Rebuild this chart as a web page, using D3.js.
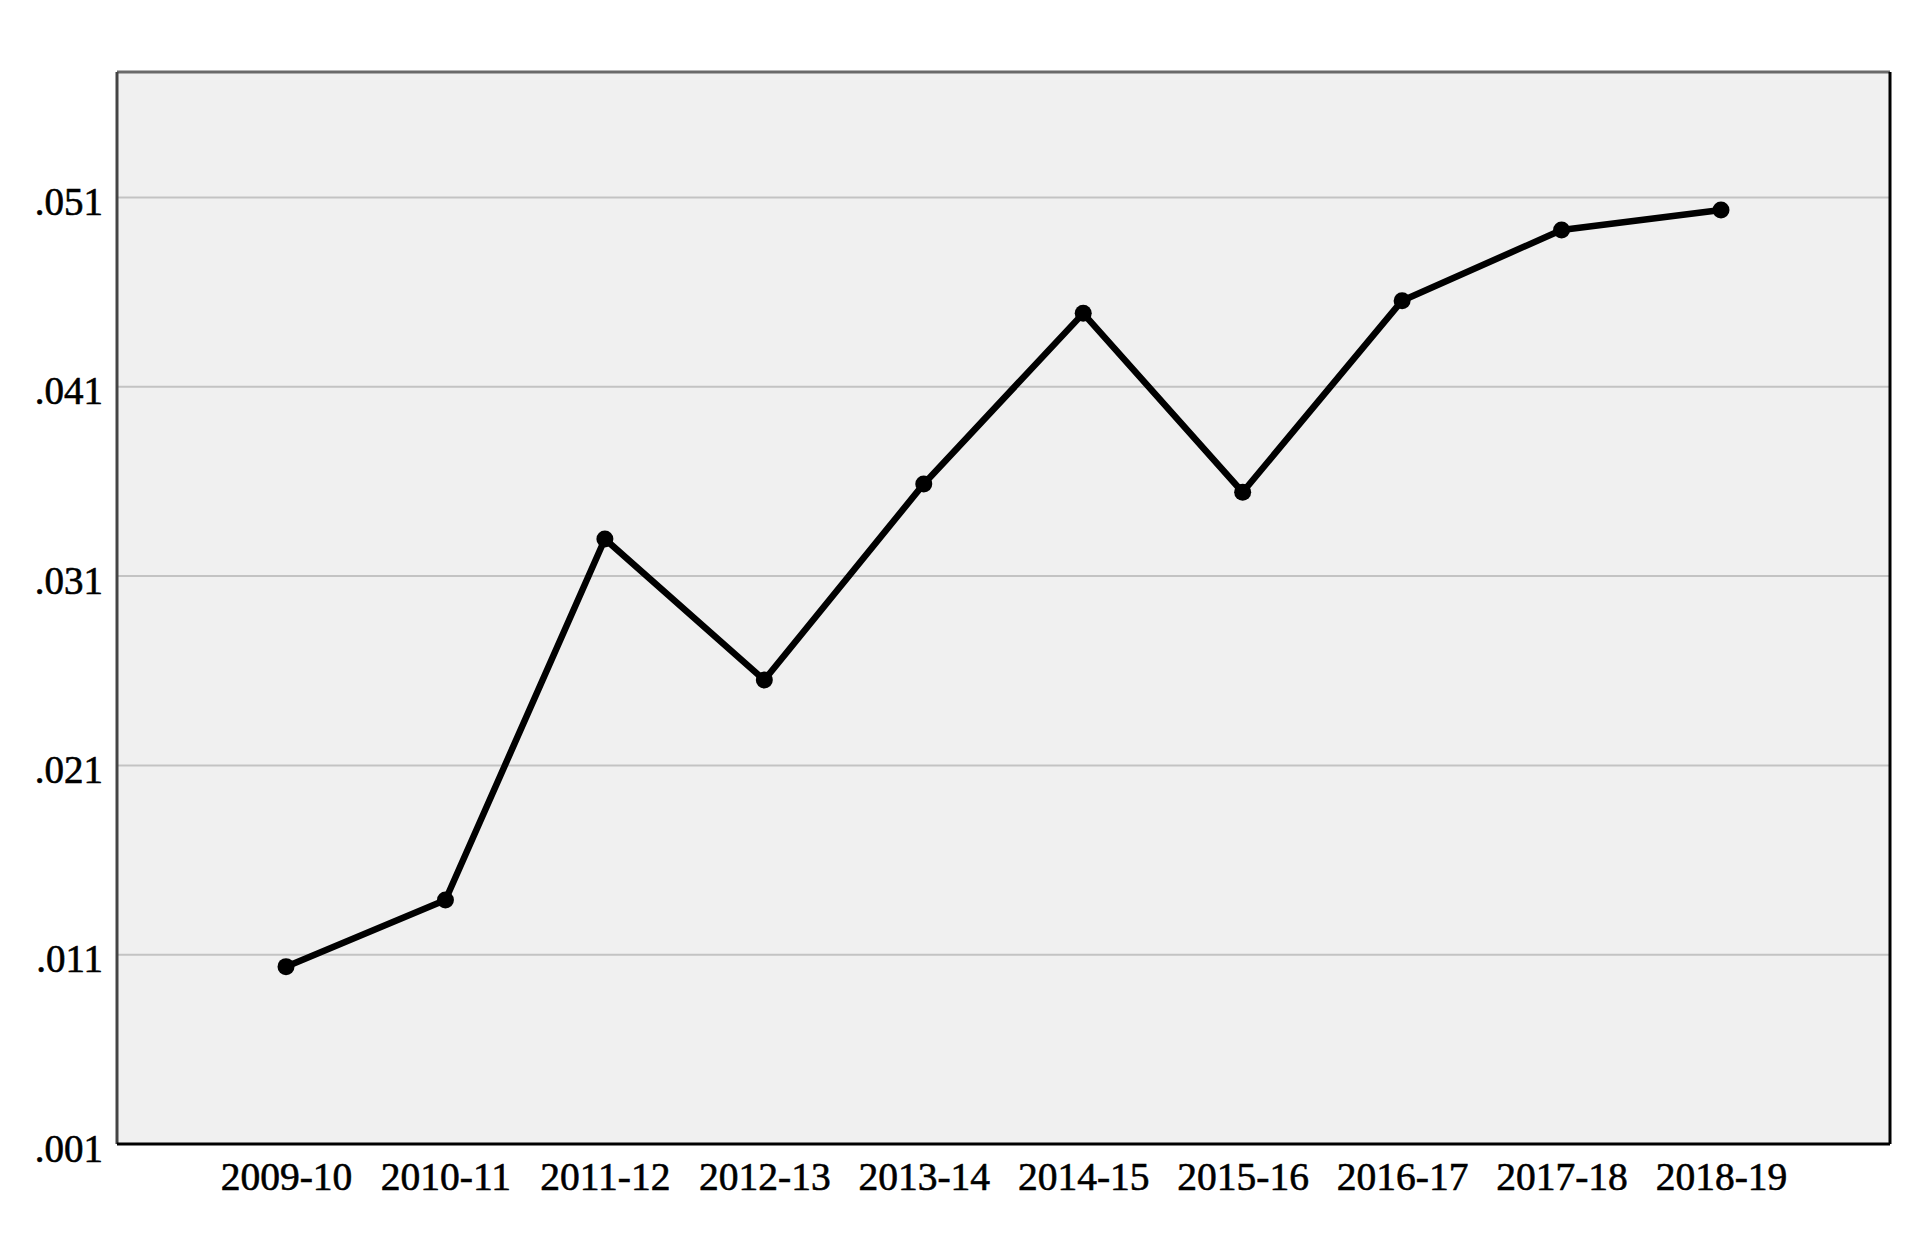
<!DOCTYPE html>
<html>
<head>
<meta charset="utf-8">
<script src="https://cdn.jsdelivr.net/npm/d3@7"></script>
<style>
  html, body { margin: 0; padding: 0; background: #fff; }
  svg { display: block; }
  text { font-family: "Liberation Serif", "Times New Roman", serif; fill: #000; }
</style>
</head>
<body>
<script>
const categories = ["2009-10","2010-11","2011-12","2012-13","2013-14","2014-15","2015-16","2016-17","2017-18","2018-19"];
const values = [0.01037, 0.01389, 0.03296, 0.02551, 0.03587, 0.04488, 0.03543, 0.04555, 0.04928, 0.05034];
const yTicks = [0.001, 0.011, 0.021, 0.031, 0.041, 0.051];
const yTickLabels = [".001", ".011", ".021", ".031", ".041", ".051"];
const yDomain = [0.001, 0.05763];

const W = 1913, H = 1252;
const L = 117, T = 72, R = 1890, B = 1144;

const svg = d3.select("body").append("svg").attr("width", W).attr("height", H);

const x = d3.scalePoint().domain(categories).range([L, R]).padding(1.06);
const y = d3.scaleLinear().domain(yDomain).range([B, T]);

// plot background
svg.append("rect").attr("x", L).attr("y", T).attr("width", R - L).attr("height", B - T).attr("fill", "#f0f0f0");

// gridlines
svg.append("g").selectAll("line").data(yTicks.filter(d => d > yDomain[0])).join("line")
  .attr("x1", L).attr("x2", R)
  .attr("y1", d => y(d)).attr("y2", d => y(d))
  .attr("stroke", "#c3c3c3").attr("stroke-width", 2);

// y axis labels
const yAxis = d3.axisLeft(y).tickValues(yTicks).tickFormat((d, i) => yTickLabels[i]).tickSize(0).tickPadding(14);
const gy = svg.append("g").attr("transform", `translate(${L},0)`).call(yAxis);
gy.select(".domain").remove();
gy.selectAll("text").attr("font-size", 39).attr("font-family", "Liberation Serif").attr("dy", "0.44em")
  .attr("stroke", "#000").attr("stroke-width", 0.6);

// x axis labels
const xAxis = d3.axisBottom(x).tickSize(0).tickPadding(0);
const gx = svg.append("g").attr("transform", `translate(0,${B})`).call(xAxis);
gx.select(".domain").remove();
gx.selectAll("text").attr("font-size", 39.5).attr("font-family", "Liberation Serif").attr("y", 46).attr("dy", 0)
  .attr("stroke", "#000").attr("stroke-width", 0.6);

// frame
svg.append("line").attr("x1", L).attr("x2", R).attr("y1", T).attr("y2", T).attr("stroke", "#6a6a6a").attr("stroke-width", 3);
svg.append("line").attr("x1", L).attr("x2", L).attr("y1", T).attr("y2", B).attr("stroke", "#444").attr("stroke-width", 3);
svg.append("line").attr("x1", R).attr("x2", R).attr("y1", T).attr("y2", B).attr("stroke", "#000").attr("stroke-width", 3);
svg.append("line").attr("x1", L).attr("x2", R).attr("y1", B).attr("y2", B).attr("stroke", "#000").attr("stroke-width", 3);

// line
const data = categories.map((c, i) => ({c, v: values[i]}));
svg.append("path").datum(data)
  .attr("fill", "none").attr("stroke", "#000").attr("stroke-width", 6.5)
  .attr("stroke-linejoin", "round")
  .attr("d", d3.line().x(d => x(d.c)).y(d => y(d.v)));

svg.append("g").selectAll("circle").data(data).join("circle")
  .attr("cx", d => x(d.c)).attr("cy", d => y(d.v)).attr("r", 8.5).attr("fill", "#000");
</script>
</body>
</html>
